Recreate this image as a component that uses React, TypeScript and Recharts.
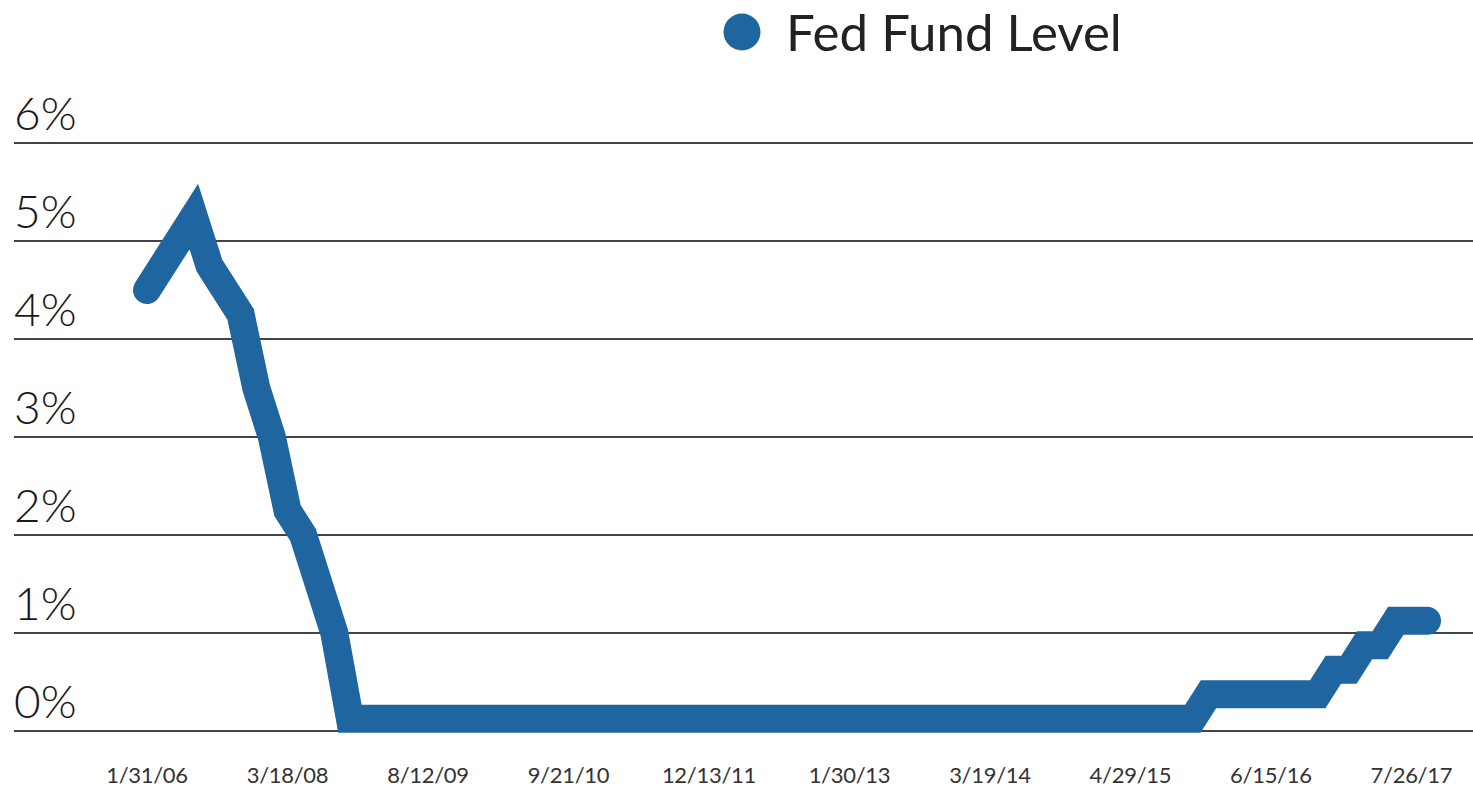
import { CartesianGrid, Line, LineChart, XAxis, YAxis } from "recharts";

// FOMC decision dates (category axis) and the fed funds level at each
const dates = [
  "1/31/06", "3/28/06", "5/10/06", "6/29/06", "9/18/07", "10/31/07", "12/11/07", "1/22/08", "1/30/08",
  "3/18/08", "4/30/08", "10/8/08", "10/29/08", "12/16/08", "1/28/09", "3/18/09", "4/29/09", "6/24/09",
  "8/12/09", "9/23/09", "11/4/09", "12/16/09", "1/27/10", "3/16/10", "4/28/10", "6/23/10", "8/10/10",
  "9/21/10", "11/3/10", "12/14/10", "1/26/11", "3/15/11", "4/27/11", "6/22/11", "8/9/11", "11/2/11",
  "12/13/11", "1/25/12", "3/13/12", "4/25/12", "6/20/12", "8/1/12", "9/13/12", "10/24/12", "12/12/12",
  "1/30/13", "3/20/13", "5/1/13", "6/19/13", "7/31/13", "9/18/13", "10/30/13", "12/18/13", "1/29/14",
  "3/19/14", "4/30/14", "6/18/14", "7/30/14", "9/17/14", "10/29/14", "12/17/14", "1/28/15", "3/18/15",
  "4/29/15", "6/17/15", "7/29/15", "9/17/15", "10/28/15", "12/16/15", "1/27/16", "3/16/16", "4/27/16",
  "6/15/16", "7/27/16", "9/21/16", "11/2/16", "12/14/16", "2/1/17", "3/15/17", "5/3/17", "6/14/17",
  "7/26/17", "9/20/17",
];

const fedFund = [
  4.5, 4.75, 5.0, 5.25, 4.75, 4.5, 4.25, 3.5, 3.0,
  2.25, 2.0, 1.5, 1.0, 0.125, 0.125, 0.125, 0.125, 0.125,
  0.125, 0.125, 0.125, 0.125, 0.125, 0.125, 0.125, 0.125, 0.125,
  0.125, 0.125, 0.125, 0.125, 0.125, 0.125, 0.125, 0.125, 0.125,
  0.125, 0.125, 0.125, 0.125, 0.125, 0.125, 0.125, 0.125, 0.125,
  0.125, 0.125, 0.125, 0.125, 0.125, 0.125, 0.125, 0.125, 0.125,
  0.125, 0.125, 0.125, 0.125, 0.125, 0.125, 0.125, 0.125, 0.125,
  0.125, 0.125, 0.125, 0.125, 0.125, 0.375, 0.375, 0.375, 0.375,
  0.375, 0.375, 0.375, 0.375, 0.625, 0.625, 0.875, 0.875, 1.125,
  1.125, 1.125,
];

const yTicks = [0, 1, 2, 3, 4, 5, 6];

const BLUE = "#1f66a1";
const FONT = "Lato, 'Open Sans', sans-serif";

const data = dates.map((d, i) => ({ date: d, rate: fedFund[i] }));

function YTick({ y, payload }: any) {
  return (
    <text x={14} y={y - 13} fontSize={46} fontWeight={300} fontFamily={FONT} fill="#1a1a1a" textAnchor="start">
      {payload.value}%
    </text>
  );
}

function XTick({ x, y, payload }: any) {
  return (
    <text x={x} y={y + 44} fontSize={22} letterSpacing={-0.3} fontFamily={FONT} fill="#333" textAnchor="middle">
      {payload.value}
    </text>
  );
}

export default function App() {
  return (
    <div style={{ position: "absolute", left: 0, top: 0, width: 1473, height: 791, background: "#fff" }}>
      {/* legend */}
      <div
        style={{
          position: "absolute",
          top: 4,
          left: 722,
          display: "flex",
          alignItems: "center",
          fontFamily: FONT,
        }}
      >
        <svg width={40} height={40} style={{ marginRight: 24 }}>
          <circle cx={20} cy={20} r={18.5} fill={BLUE} />
        </svg>
        <span style={{ fontSize: 51, lineHeight: "56px", color: "#222" }}>Fed Fund Level</span>
      </div>
      <LineChart width={1473} height={791} data={data} margin={{ top: 143, right: 0, bottom: 0, left: 13 }}>
        <CartesianGrid vertical={false} stroke="#444" strokeWidth={2} />
        <XAxis
          dataKey="date"
          interval={8}
          axisLine={false}
          tickLine={false}
          height={60}
          padding={{ left: 133, right: 46 }}
          tick={<XTick />}
        />
        <YAxis
          domain={[0, 6]}
          ticks={yTicks}
          width={1}
          axisLine={false}
          tickLine={false}
          tick={<YTick />}
        />
        <Line
          type="linear"
          dataKey="rate"
          stroke={BLUE}
          strokeWidth={28}
          strokeLinecap="round"
          strokeLinejoin="miter"
          dot={false}
          isAnimationActive={false}
        />
      </LineChart>
    </div>
  );
}
